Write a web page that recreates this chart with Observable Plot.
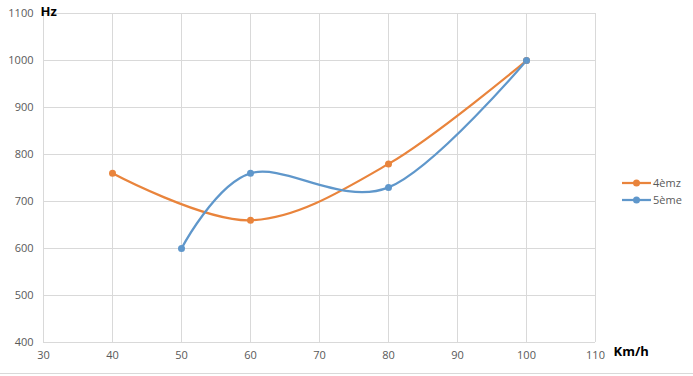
<!DOCTYPE html>
<html><head><meta charset="utf-8">
<script src="https://cdn.jsdelivr.net/npm/d3@7"></script>
<script src="https://cdn.jsdelivr.net/npm/@observablehq/plot@0.6"></script>
<style>
body{margin:0;background:#fff;font-family:"Open Sans",sans-serif}
#wrap{position:relative;width:693px;height:376px;overflow:hidden}
#legend{position:absolute;left:622px;top:174px;font-size:11px;color:#595959}
#legend .row{display:flex;align-items:center;height:17px}
#legend svg{margin-right:2px}
#border{position:absolute;left:0;top:373px;width:693px;height:1px;background:#d9d9d9}
</style></head>
<body><div id="wrap"><div id="border"></div></div>
<script>
const seriesNames = ["4èmz", "5ème"];
const seriesColors = ["#E9843C", "#5F97CB"];
const speeds4 = [40, 60, 80, 100];
const hz4 = [760, 660, 780, 1000];
const speeds5 = [50, 60, 80, 100];
const hz5 = [600, 760, 730, 1000];
const xTicks = [30, 40, 50, 60, 70, 80, 90, 100, 110];
const yTicks = [400, 500, 600, 700, 800, 900, 1000, 1100];
const xLabel = "Km/h";
const yLabel = "Hz";

const data = [
  ...speeds4.map((s, i) => ({speed: s, hz: hz4[i], series: seriesNames[0]})),
  ...speeds5.map((s, i) => ({speed: s, hz: hz5[i], series: seriesNames[1]}))
];

const chart = Plot.plot({
  width: 693, height: 376,
  marginLeft: 43, marginRight: 98, marginTop: 13, marginBottom: 34,
  style: {fontFamily: "'Open Sans', sans-serif", fontSize: "11px", color: "#595959", background: "transparent"},
  x: {domain: [30, 110], ticks: xTicks, label: null},
  y: {domain: [400, 1100], ticks: yTicks, label: null},
  color: {domain: seriesNames, range: seriesColors},
  marks: [
    Plot.gridX(xTicks, {stroke: "#d9d9d9", strokeOpacity: 1}),
    Plot.gridY(yTicks, {stroke: "#d9d9d9", strokeOpacity: 1}),
    Plot.axisX({ticks: xTicks, tickFormat: d => String(d), tickSize: 0, tickPadding: 9, fill: "#595959"}),
    Plot.axisY({ticks: yTicks, tickFormat: d => String(d), tickSize: 0, tickPadding: 10, fill: "#595959"}),
    Plot.line(data, {x: "speed", y: "hz", z: "series", stroke: "series", strokeWidth: 2.25, curve: "cardinal"}),
    Plot.dot(data, {x: "speed", y: "hz", fill: "series", r: 3.5}),
    Plot.text([yLabel], {frameAnchor: "top-left", dx: -3, dy: -7, textAnchor: "start", fontWeight: "bold", fontSize: 13, fill: "#000"}),
    Plot.text([xLabel], {frameAnchor: "bottom-right", dx: 18, dy: 13, textAnchor: "start", fontWeight: "bold", fontSize: 13, fill: "#000"})
  ]
});
const wrap = document.getElementById("wrap");
wrap.insertBefore(chart, wrap.firstChild);

const legend = document.createElement("div");
legend.id = "legend";
seriesNames.forEach((name, i) => {
  const row = document.createElement("div");
  row.className = "row";
  row.innerHTML = `<svg width="29" height="10"><line x1="0" x2="29" y1="5" y2="5" stroke="${seriesColors[i]}" stroke-width="2.25"/><circle cx="14.5" cy="5" r="3.5" fill="${seriesColors[i]}"/></svg><span>${name}</span>`;
  legend.appendChild(row);
});
wrap.appendChild(legend);
</script>
</body></html>
